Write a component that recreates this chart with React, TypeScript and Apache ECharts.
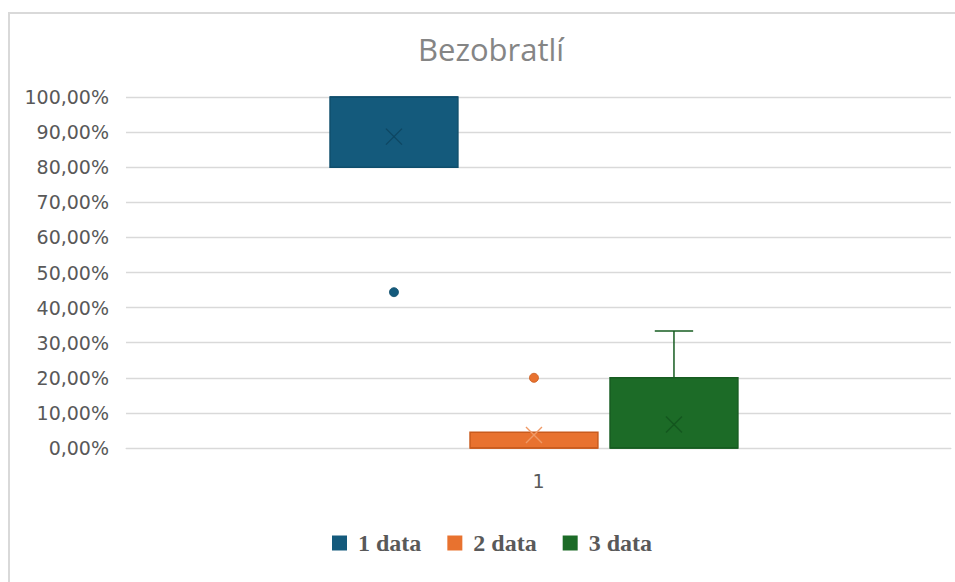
import React, { useEffect, useRef } from "react";
import * as echarts from "echarts";

const categories = ["1"];
const seriesNames = ["1 data", "2 data", "3 data"];
// [min, q1, median, q3, max]
const boxStats = [
  [0.8, 0.8, 1.0, 1.0, 1.0],
  [0.0, 0.0, 0.0, 0.045, 0.045],
  [0.0, 0.0, 0.0, 0.2, 0.333],
];
const means = [0.887, 0.037, 0.067];
const outliers = [[0.444], [0.2], []];
const yTicks = { min: 0, max: 1, interval: 0.1 };

const fills = ["#145A7C", "#E8722F", "#1C6B27"];
const borders = ["#0F4E6C", "#C95B1D", "#165C20"];
const meanColors = ["#0E4662", "#F09A66", "#14561E"];

export default function App() {
  const ref = useRef<HTMLDivElement>(null);
  useEffect(() => {
    if (!ref.current) return;
    const chart = echarts.init(ref.current, null, { renderer: "svg" });
    const offsets = [-0.1752, -0.0055, 0.1642];
    const boxFrac = 0.155;

    const series = seriesNames.map((name, i) => ({
      name,
      type: "custom" as const,
      itemStyle: { color: fills[i], borderColor: borders[i] },
      data: categories.map((_, ci) => [ci, ...boxStats[i], means[i]]),
      renderItem: (params: any, api: any) => {
        const ci = api.value(0);
        const band = api.size([1, 0])[0];
        const cx = api.coord([ci, 0])[0] + offsets[i] * band;
        const w = boxFrac * band;
        const y = (v: number) => api.coord([ci, v])[1];
        const [mn, q1, md, q3, mx] = [1, 2, 3, 4, 5].map((k) => api.value(k));
        const mean = api.value(6);
        const capW = w * 0.3;
        const children: any[] = [];
        const lineStyle = { stroke: borders[i], lineWidth: 1.5 };
        if (mx > q3) {
          children.push({ type: "line", shape: { x1: cx, y1: y(q3), x2: cx, y2: y(mx) }, style: lineStyle });
          children.push({ type: "line", shape: { x1: cx - capW / 2, y1: y(mx), x2: cx + capW / 2, y2: y(mx) }, style: lineStyle });
        }
        if (mn < q1) {
          children.push({ type: "line", shape: { x1: cx, y1: y(q1), x2: cx, y2: y(mn) }, style: lineStyle });
          children.push({ type: "line", shape: { x1: cx - capW / 2, y1: y(mn), x2: cx + capW / 2, y2: y(mn) }, style: lineStyle });
        }
        children.push({
          type: "rect",
          shape: { x: cx - w / 2, y: y(q3), width: w, height: y(q1) - y(q3) },
          style: { fill: fills[i], stroke: borders[i], lineWidth: 1.5 },
        });
        children.push({ type: "line", shape: { x1: cx - w / 2, y1: y(md), x2: cx + w / 2, y2: y(md) }, style: lineStyle });
        const my = y(mean);
        const s = 8;
        const mStyle = { stroke: meanColors[i], lineWidth: 1.3 };
        children.push({ type: "line", shape: { x1: cx - s, y1: my - s, x2: cx + s, y2: my + s }, style: mStyle });
        children.push({ type: "line", shape: { x1: cx - s, y1: my + s, x2: cx + s, y2: my - s }, style: mStyle });
        outliers[i].forEach((o) => {
          children.push({ type: "circle", shape: { cx, cy: y(o), r: 4.5 }, style: { fill: fills[i], stroke: borders[i], lineWidth: 0.8 } });
        });
        return { type: "group", children };
      },
    }));

    chart.setOption({
      animation: false,
      title: {
        text: "Bezobratlí",
        left: 413,
        top: 28,
        textStyle: { fontFamily: "Open Sans", fontSize: 31, fontWeight: "normal", color: "#858585" },
      },
      graphic: [
        {
          type: "rect",
          shape: { x: 9, y: 13, width: 1000, height: 1000 },
          style: { fill: "none", stroke: "#D9D9D9", lineWidth: 2 },
          silent: true,
        },
      ],
      legend: {
        data: seriesNames,
        left: 327,
        top: 526,
        icon: "rect",
        itemWidth: 15,
        itemHeight: 15,
        itemGap: 26,
        textStyle: {
          fontFamily: "Liberation Serif",
          fontWeight: "bold",
          fontSize: 24,
          color: "#595959",
          padding: [0, 0, 0, 6],
        },
      },
      grid: { left: 126, right: 4, top: 97, bottom: 134, containLabel: false },
      xAxis: {
        type: "category",
        data: categories,
        axisLine: { show: true, lineStyle: { color: "#D9D9D9", width: 1 } },
        axisTick: { show: false },
        axisLabel: { margin: 23, fontFamily: "DejaVu Sans", fontSize: 19, color: "#595959" },
      },
      yAxis: {
        type: "value",
        min: yTicks.min,
        max: yTicks.max,
        interval: yTicks.interval,
        axisLine: { show: false },
        axisTick: { show: false },
        splitLine: { lineStyle: { color: "#D9D9D9", width: 1.3 } },
        axisLabel: {
          margin: 17,
          fontFamily: "DejaVu Sans",
          fontSize: 19,
          color: "#595959",
          formatter: (v: number) => (v * 100).toFixed(2).replace(".", ",") + "%",
        },
      },
      series,
    });
    return () => chart.dispose();
  }, []);
  return <div ref={ref} style={{ position: "absolute", left: 0, top: 0, width: 955, height: 582 }} />;
}
